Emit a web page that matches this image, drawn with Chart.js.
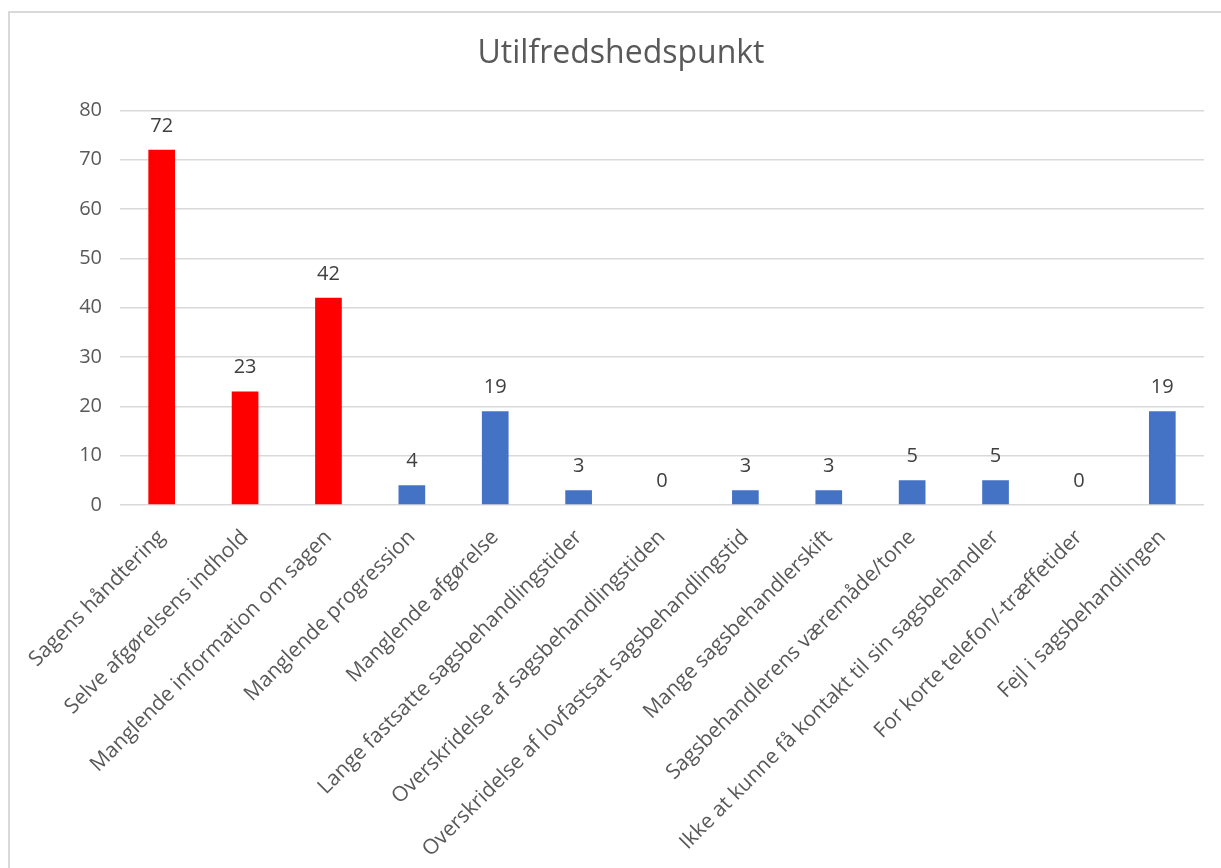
<!DOCTYPE html>
<html>
<head>
<meta charset="utf-8">
<script src="https://cdn.jsdelivr.net/npm/chart.js@4/dist/chart.umd.min.js"></script>
<style>
  html, body { margin: 0; padding: 0; background: #fff; overflow: hidden; }
  #frame { position: absolute; left: 8px; top: 11px; width: 1300px; height: 900px; border-left: 2px solid #d9d9d9; border-top: 2px solid #d9d9d9; }
  #wrap { position: absolute; left: 0; top: 0; width: 1221px; height: 868px; }
</style>
</head>
<body>
<div id="frame"></div>
<div id="wrap"><canvas id="c"></canvas></div>
<script>
const title = "Utilfredshedspunkt";
const categories = [
  "Sagens håndtering",
  "Selve afgørelsens indhold",
  "Manglende information om sagen",
  "Manglende progression",
  "Manglende afgørelse",
  "Lange fastsatte sagsbehandlingstider",
  "Overskridelse af sagsbehandlingstiden",
  "Overskridelse af lovfastsat sagsbehandlingstid",
  "Mange sagsbehandlerskift",
  "Sagsbehandlerens væremåde/tone",
  "Ikke at kunne få kontakt til sin sagsbehandler",
  "For korte telefon/-træffetider",
  "Fejl i sagsbehandlingen"
];
const values = [72, 23, 42, 4, 19, 3, 0, 3, 3, 5, 5, 0, 19];
const highlighted = [true, true, true, false, false, false, false, false, false, false, false, false, false];
const yTicks = { min: 0, max: 80, step: 10 };

const RED = "#FF0000", BLUE = "#4472C4";
const FONT = "'Open Sans', sans-serif";

const dataLabels = {
  id: "dataLabels",
  afterDatasetsDraw(chart) {
    const ctx = chart.ctx;
    const meta = chart.getDatasetMeta(0);
    ctx.save();
    ctx.font = "20px " + FONT;
    ctx.fillStyle = "#404040";
    ctx.textAlign = "center";
    ctx.textBaseline = "middle";
    meta.data.forEach((bar, i) => {
      ctx.fillText(String(values[i]), bar.x, bar.y - 24);
    });
    ctx.restore();
  }
};

new Chart(document.getElementById("c"), {
  type: "bar",
  data: {
    labels: categories,
    datasets: [{
      data: values,
      backgroundColor: highlighted.map(h => h ? RED : BLUE),
      categoryPercentage: 1,
      barPercentage: 0.32
    }]
  },
  options: {
    responsive: true,
    maintainAspectRatio: false,
    animation: false,
    layout: { padding: { top: 0, left: 38, right: 17, bottom: 0 } },
    plugins: {
      legend: { display: false },
      tooltip: { enabled: false },
      title: {
        display: true,
        text: title,
        color: "#595959",
        font: { family: FONT, size: 32, weight: "normal" },
        padding: { top: 35, bottom: 37 }
      }
    },
    scales: {
      x: {
        grid: { display: false },
        border: { display: false },
        ticks: {
          color: "#595959",
          font: { family: FONT, size: 21 },
          minRotation: 45,
          maxRotation: 45,
          autoSkip: false,
          padding: 12,
          labelOffset: 0
        },
        afterFit(scale) { scale.height = 363; }
      },
      y: {
        min: yTicks.min,
        max: yTicks.max,
        ticks: {
          stepSize: yTicks.step,
          color: "#595959",
          font: { family: FONT, size: 20 },
          padding: 18
        },
        grid: { color: "#d9d9d9", lineWidth: 1.5, drawTicks: false },
        border: { display: false },
        afterFit(scale) { scale.width = 82; }
      }
    }
  },
  plugins: [dataLabels]
});
</script>
</body>
</html>
